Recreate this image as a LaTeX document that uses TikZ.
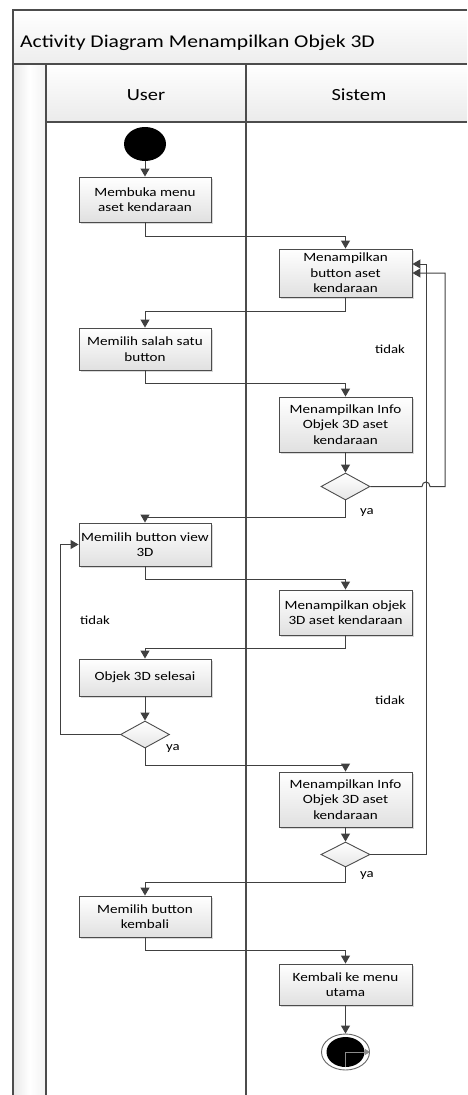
\documentclass[tikz,border=0pt]{standalone}
\usepackage{fontspec}
\setmainfont[FakeStretch=1.2]{Carlito}
\usetikzlibrary{arrows.meta,shapes.geometric,shadows,calc}
\begin{document}
\begin{tikzpicture}[x=1pt,y=-1pt,
  lane/.style={draw=black!70, line width=1.1pt},
  ln/.style={draw=black!75, line width=1pt},
  flow/.style={ln, -{Triangle[width=9pt,length=8pt]}},
  box/.style={draw=black!70, line width=0.9pt, top color=white, bottom color=black!12,
    drop shadow={shadow xshift=2pt,shadow yshift=-2pt,fill=black!25,opacity=0.6},
    align=center, inner sep=0pt, font=\fontsize{12.6}{15.6}\selectfont},
  ubox/.style={box, minimum width=132pt},
  sbox/.style={box, minimum width=133pt},
  dec/.style={diamond, draw=black!70, line width=0.9pt, top color=white, bottom color=black!10,
    minimum width=49pt, minimum height=27pt, inner sep=0pt},
  lbl/.style={font=\fontsize{12.3}{14}\selectfont, inner sep=0pt},
]
\useasboundingbox (0,0) rectangle (467,1095);
% swimlane frame
\shade[top color=white, bottom color=black!7] (13,10) rectangle (467,64);
\shade[top color=white, bottom color=black!8] (46,64) rectangle (467,122);
\shade[left color=black!9, right color=black!5, middle color=white] (13,64) rectangle (46,1095);
\draw[lane] (467,10) -- (13,10) -- (13,1095);
\draw[lane] (13,64) -- (467,64);
\draw[lane] (46,122) -- (467,122);
\draw[lane] (46,64) -- (46,1095);
\draw[lane] (246,64) -- (246,1095);
\node[anchor=west, font=\fontsize{18}{21}\selectfont, inner sep=0pt] (title) at (20,43) {Activity Diagram Menampilkan Objek 3D};
\node[font=\fontsize{17}{20}\selectfont, inner sep=0pt] (hUser) at (146,95) {User};
\node[font=\fontsize{17}{20}\selectfont, inner sep=0pt] (hSistem) at (359,95) {Sistem};

% nodes
\node[ellipse, fill=black, minimum width=42pt, minimum height=34pt, inner sep=0pt] (start) at (145,144) {};
\node[ubox, minimum height=45pt] (b1) at (145,199.5) {Membuka menu\\aset kendaraan};
\node[sbox, minimum height=48pt] (b2) at (345.5,273) {Menampilkan\\button aset\\kendaraan};
\node[ubox, minimum height=42pt] (b3) at (145,349) {Memilih salah satu\\button};
\node[sbox, minimum height=55pt] (b4) at (345.5,424.5) {Menampilkan Info\\Objek 3D aset\\kendaraan};
\node[dec] (d1) at (345.5,486.5) {};
\node[ubox, minimum height=43pt] (b5) at (145,544.5) {Memilih button view\\3D};
\node[sbox, minimum height=45pt] (b6) at (345.5,612.5) {Menampilkan objek\\3D aset kendaraan};
\node[ubox, minimum height=37pt] (b7) at (145,677.5) {Objek 3D selesai};
\node[dec] (d2) at (145,734.5) {};
\node[sbox, minimum height=55pt] (b8) at (345.5,799.5) {Menampilkan Info\\Objek 3D aset\\kendaraan};
\node[dec, minimum height=25pt] (d3) at (345.5,854.5) {};
\node[ubox, minimum height=41pt] (b9) at (145,916.5) {Memilih button\\kembali};
\node[sbox, minimum height=41pt] (b10) at (345.5,984.5) {Kembali ke menu\\utama};
\node[ellipse, draw=black!60, line width=0.9pt, fill=white, minimum width=48pt, minimum height=36pt, inner sep=0pt] (end) at (345.5,1052) {};
\node[ellipse, fill=black, minimum width=38pt, minimum height=30pt, inner sep=0pt] (endin) at (end.center) {};
\draw[draw=black!45, line width=0.8pt, -{Triangle[width=6pt,length=5pt]}] (endin.south) -- (endin.center) -- (end.east);

% labels
\node[lbl] (t1) at (390,349) {tidak};
\node[lbl] (y1) at (367,512) {ya};
\node[lbl] (t2) at (95,620) {tidak};
\node[lbl] (y2) at (173,748) {ya};
\node[lbl] (t3) at (390,700) {tidak};
\node[lbl] (y3) at (367,875) {ya};

% connectors
\draw[flow] (start) -- (b1);
\draw[flow] (b1.south) -- ++(0,14) -| (b2.north);
\draw[flow] (b2.south) -- ++(0,14) -| (b3.north);
\draw[flow] (b3.south) -- ++(0,13) -| (b4.north);
\draw[flow] (b4.south) -- (d1.north);
\draw[flow] (d1.south) -- ++(0,17) -| (b5.north);
\draw[flow] (d1.east) -- (422,486.5) .. controls (422,480.5) and (430,480.5) .. (430,486.5) -- (445,486.5) |- (b2.east);
\draw[flow] (b5.south) -- ++(0,13) -| (b6.north);
\draw[flow] (b6.south) -- ++(0,13) -| (b7.north);
\draw[flow] (b7.south) -- (d2.north);
\draw[flow] (d2.west) -- ++(-59.5,0) |- (b5.west);
\draw[flow] (d2.south) -- ++(0,17) -| (b8.north);
\draw[flow] (b8.south) -- (d3.north);
\draw[flow] (d3.east) -- ++(56,0) |- ([yshift=9pt]b2.east);
\draw[flow] (d3.south) -- ++(0,15) -| (b9.north);
\draw[flow] (b9.south) -- ++(0,13) -| (b10.north);
\draw[flow] (b10.south) -- (end.north);
\end{tikzpicture}
\end{document}
